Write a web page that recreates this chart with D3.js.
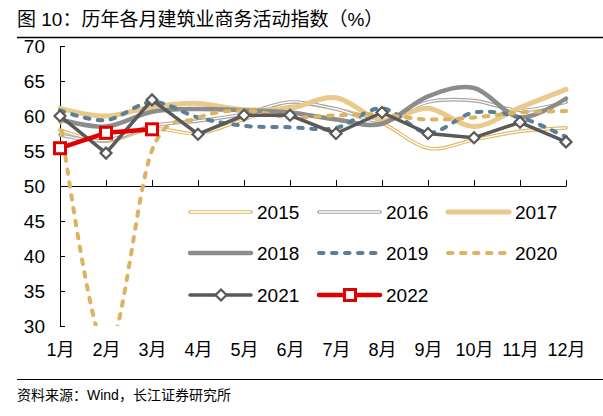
<!DOCTYPE html>
<html>
<head>
<meta charset="utf-8">
<script src="https://cdn.jsdelivr.net/npm/d3@7"></script>
<style>
  body { margin: 0; background: #fff; }
  text { font-family: "Liberation Sans", Arial, "Noto Sans CJK SC", sans-serif; }
</style>
</head>
<body>
<div class="grafico"></div>
<script>
const months = ['1月', '2月', '3月', '4月', '5月', '6月', '7月', '8月', '9月', '10月', '11月', '12月']
const yTicks = [30, 35, 40, 45, 50, 55, 60, 65, 70]

const y2015 = [58.0, 56.4, 58.2, 57.5, 59.5, 61.7, 61.0, 59.0, 55.4, 56.6, 57.8, 58.3]
const y2016 = [57.3, 56.5, 58.6, 59.3, 60.3, 62.0, 61.0, 59.3, 62.0, 62.2, 60.8, 62.0]
const y2017 = [61.1, 60.0, 61.3, 61.8, 60.9, 61.1, 62.6, 59.4, 61.1, 58.5, 61.2, 63.8]
const y2018 = [59.5, 58.5, 60.6, 61.0, 60.8, 60.5, 59.5, 58.9, 62.8, 64.0, 59.8, 62.5]
const y2019 = [60.8, 59.4, 62.0, 59.8, 58.6, 58.4, 58.3, 61.1, 57.6, 60.5, 59.8, 57.0]
const y2020 = [59.7, 26.6, 55.1, 59.7, 60.8, 59.8, 60.1, 60.2, 59.5, 59.8, 60.5, 60.7]
const y2021 = [60.0, 54.7, 62.3, 57.4, 60.1, 60.1, 57.5, 60.5, 57.5, 56.9, 59.1, 56.3]
const y2022 = [55.4, 57.6, 58.1]

/*Estilo de cada serie*/
const series = [
  {name: '2015', values: y2015, color: '#E2B968', width: 3.6, inner: true, smooth: true},
  {name: '2016', values: y2016, color: '#A6A6A6', width: 3.6, inner: true, smooth: true},
  {name: '2017', values: y2017, color: '#E9C98C', width: 5, smooth: true},
  {name: '2018', values: y2018, color: '#8C8C8C', width: 4.5, smooth: true},
  {name: '2019', values: y2019, color: '#5B7F98', width: 4, dash: '4.5,8.5', smooth: true},
  {name: '2020', values: y2020, color: '#DDB260', width: 4, dash: '4.5,8.5', smooth: true},
  {name: '2021', values: y2021, color: '#595959', width: 3.5, marker: 'diamond'},
  {name: '2022', values: y2022, color: '#E00000', width: 4.5, marker: 'square'}
]

const w = 603
const h = 416

const xScale = d3.scalePoint()
  .domain(months)
  .range([60, 566])

const yScale = d3.scaleLinear()
  .domain([30, 70])
  .range([326, 46])

const svg = d3.select('.grafico')
  .append('svg')
  .attr('width', w)
  .attr('height', h)

/*Título y fuente*/
svg.append('text')
  .attr('x', 17)
  .attr('y', 26)
  .attr('font-size', 19)
  .attr('fill', '#000')
  .text('图 10：历年各月建筑业商务活动指数（%）')

svg.append('line')
  .attr('x1', 17).attr('x2', 603)
  .attr('y1', 37.5).attr('y2', 37.5)
  .attr('stroke', '#000')
  .attr('stroke-width', 1.5)

svg.append('line')
  .attr('x1', 17).attr('x2', 603)
  .attr('y1', 379.5).attr('y2', 379.5)
  .attr('stroke', '#000')
  .attr('stroke-width', 1)

svg.append('text')
  .attr('x', 17)
  .attr('y', 400)
  .attr('font-size', 14)
  .attr('fill', '#000')
  .text('资料来源：Wind，长江证券研究所')

/*Ejes*/
const yAxis = d3.axisLeft(yScale)
  .tickValues(yTicks)
  .tickSizeInner(-5)
  .tickSizeOuter(0)
  .tickPadding(15)

svg.append('g')
  .attr('id', 'y-axis')
  .attr('transform', 'translate(60,0)')
  .call(yAxis)
  .call(g => g.selectAll('text').attr('font-size', 19).attr('fill', '#000').style('font-family', '"Liberation Sans", Arial'))
  .call(g => g.selectAll('line, path').attr('stroke', '#000'))

const xAxis = d3.axisBottom(xScale)
  .tickSizeInner(-6)
  .tickSizeOuter(0)
  .tickFormat('')

svg.append('g')
  .attr('id', 'x-axis')
  .attr('transform', `translate(0,${yScale(50)})`)
  .call(xAxis)
  .call(g => g.selectAll('line, path').attr('stroke', '#000'))

const xLabels = d3.axisBottom(xScale)
  .tickSize(0)
  .tickPadding(17)

svg.append('g')
  .attr('id', 'x-labels')
  .attr('transform', `translate(0,${yScale(30)})`)
  .call(xLabels)
  .call(g => g.select('.domain').remove())
  .call(g => g.selectAll('text').attr('font-size', 18).attr('fill', '#000'))

/*Clip del área de trazado*/
svg.append('clipPath')
  .attr('id', 'plot')
  .append('rect')
  .attr('x', 0).attr('y', yScale(70))
  .attr('width', w).attr('height', yScale(30) - yScale(70))

const smoothLine = d3.line()
  .x((d, i) => xScale(months[i]))
  .y(d => yScale(d))
  .curve(d3.curveCardinal.tension(0))

const straightLine = d3.line()
  .x((d, i) => xScale(months[i]))
  .y(d => yScale(d))

const drawMarker = (g, s, cx, cy) => {
  if (s.marker === 'diamond') {
    const r = 5.5
    g.append('path')
      .attr('d', `M${cx},${cy - r}L${cx + r},${cy}L${cx},${cy + r}L${cx - r},${cy}Z`)
      .attr('fill', '#fff')
      .attr('stroke', s.color)
      .attr('stroke-width', 2.2)
  } else if (s.marker === 'square') {
    const r = 5.5
    g.append('rect')
      .attr('x', cx - r).attr('y', cy - r)
      .attr('width', 2 * r).attr('height', 2 * r)
      .attr('fill', '#fff')
      .attr('stroke', s.color)
      .attr('stroke-width', 3)
  }
}

const drawStroke = (sel, s) => {
  sel.attr('fill', 'none')
    .attr('stroke', s.color)
    .attr('stroke-width', s.width)
    .attr('stroke-linecap', 'round')
    .attr('stroke-linejoin', 'round')
  if (s.dash) sel.attr('stroke-dasharray', s.dash)
}

/*Series*/
const lines = svg.append('g').attr('class', 'series')

series.forEach(s => {
  const g = lines.append('g').attr('clip-path', s.smooth ? 'url(#plot)' : null)
  const gen = s.smooth ? smoothLine : straightLine
  g.append('path')
    .attr('d', gen(s.values))
    .call(drawStroke, s)
  if (s.inner) {
    g.append('path')
      .attr('d', gen(s.values))
      .attr('fill', 'none')
      .attr('stroke', '#fff')
      .attr('stroke-width', 1.3)
  }
  if (s.marker) {
    s.values.forEach((v, i) => drawMarker(lines, s, xScale(months[i]), yScale(v)))
  }
})

/*Leyenda*/
const legend = svg.append('g').attr('id', 'legend')
const colX = [190, 319, 448]
const rowY = [212, 253, 295]

series.forEach((s, i) => {
  const x0 = colX[i % 3]
  const y0 = rowY[Math.floor(i / 3)]
  legend.append('line')
    .attr('x1', x0).attr('x2', x0 + 61)
    .attr('y1', y0).attr('y2', y0)
    .call(drawStroke, s)
  if (s.inner) {
    legend.append('line')
      .attr('x1', x0).attr('x2', x0 + 61)
      .attr('y1', y0).attr('y2', y0)
      .attr('stroke', '#fff')
      .attr('stroke-width', 1.3)
  }
  if (s.marker) drawMarker(legend, s, x0 + 31, y0)
  legend.append('text')
    .attr('x', x0 + 67)
    .attr('y', y0)
    .attr('dy', '0.36em')
    .attr('font-size', 19)
    .attr('fill', '#000')
    .text(s.name)
})
</script>
</body>
</html>
